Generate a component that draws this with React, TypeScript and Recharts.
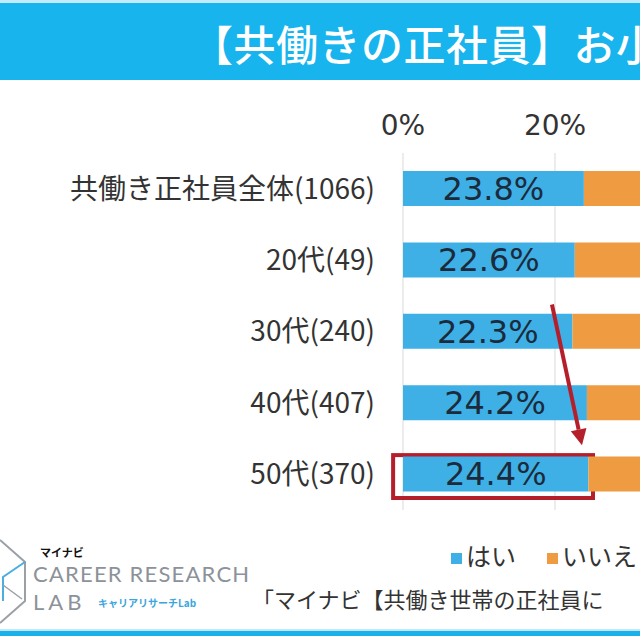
import React from 'react';
import {
  BarChart,
  Bar,
  XAxis,
  YAxis,
  CartesianGrid,
  LabelList,
  ReferenceArea,
  ReferenceLine,
} from 'recharts';

// values
const categories = ['共働き正社員全体(1066)', '20代(49)', '30代(240)', '40代(407)', '50代(370)'];
const yesValues = [23.8, 22.6, 22.3, 24.2, 24.4];
const noValues = [76.2, 77.4, 77.7, 75.8, 75.6];
const xTicks = [0, 20]; // only these two are visible in the crop
const seriesNames = ['はい', 'いいえ'];
const seriesColors = ['#3EB0E6', '#EE9B42'];

const data = categories.map((name, i) => ({ name, yes: yesValues[i], no: noValues[i] }));

const CJK = '"Noto Sans CJK JP", "Noto Sans", sans-serif';
const NUM = '"DejaVu Sans", sans-serif';
const RED = '#B51F2C';

// red box around the 50代 bar, drawn inside its band
const HighlightBox = (p: any) => (
  <rect
    x={p.x}
    y={p.y + 16.5}
    width={p.width}
    height={p.height - 28.5}
    fill="none"
    stroke={RED}
    strokeWidth={4}
  />
);

// arrow going down from above 30代 to the box
const Arrow = (p: any) => {
  const x1 = p.x1;
  const y1 = p.y1 - 27;
  const x2 = p.x2;
  const y2 = p.y2 - 29;
  const dx = x2 - x1;
  const dy = y2 - y1;
  const len = Math.sqrt(dx * dx + dy * dy);
  const ux = dx / len;
  const uy = dy / len;
  const head = 16;
  const half = 8;
  const bx = x2 - ux * head;
  const by = y2 - uy * head;
  return (
    <g>
      <line x1={x1} y1={y1} x2={bx} y2={by} stroke={RED} strokeWidth={4} />
      <polygon
        points={`${x2},${y2} ${bx - uy * half},${by + ux * half} ${bx + uy * half},${by - ux * half}`}
        fill={RED}
      />
    </g>
  );
};

const App = () => {
  return (
    <div
      style={{
        position: 'absolute',
        left: 0,
        top: 0,
        width: 640,
        height: 640,
        overflow: 'hidden',
        background: '#fff',
        fontFamily: CJK,
      }}
    >
      {/* title band */}
      <div style={{ position: 'absolute', left: 0, top: 0, width: 640, height: 3, background: '#c4ebfa' }} />
      <div style={{ position: 'absolute', left: 0, top: 3, width: 640, height: 77, background: '#17B4EE' }} />
      <div
        style={{
          position: 'absolute',
          left: 191,
          top: 22,
          fontSize: 42,
          lineHeight: '42px',
          color: '#fff',
          fontWeight: 500,
          whiteSpace: 'nowrap',
          letterSpacing: 0.5,
        }}
      >
        【共働きの正社員】お小
      </div>

      <div style={{ position: 'absolute', left: 0, top: 0 }}>
        <BarChart
          width={1180}
          height={520}
          layout="vertical"
          data={data}
          margin={{ top: 0, right: 17, bottom: 10, left: 0 }}
        >
          <CartesianGrid horizontal={false} stroke="#d9d9d9" />
          <XAxis
            type="number"
            domain={[0, 100]}
            ticks={xTicks}
            orientation="top"
            height={153}
            axisLine={false}
            tickLine={false}
            tickSize={0}
            tickMargin={18}
            tickFormatter={(v: number) => `${v}%`}
            tick={{ fontSize: 28, fill: '#333', fontFamily: NUM }}
          />
          <YAxis
            type="category"
            dataKey="name"
            width={403}
            axisLine={false}
            tickLine={false}
            tickSize={0}
            tickMargin={28}
            tick={{ fontSize: 28, fill: '#333', fontFamily: CJK }}
          />
          <Bar dataKey="yes" name={seriesNames[0]} stackId="a" fill={seriesColors[0]} barSize={35} isAnimationActive={false}>
            <LabelList
              dataKey="yes"
              position="center"
              formatter={(v: any) => `${Number(v).toFixed(1)}%`}
              fill="#1c2b3b"
              fontSize={32}
              fontFamily={NUM}
            />
          </Bar>
          <Bar dataKey="no" name={seriesNames[1]} stackId="a" fill={seriesColors[1]} barSize={35} isAnimationActive={false} />
          <ReferenceArea
            x1={-1.3}
            x2={25}
            y1={categories[4]}
            y2={categories[4]}
            ifOverflow="visible"
            shape={HighlightBox}
          />
          <ReferenceLine
            segment={[
              { x: 19.6, y: categories[2] },
              { x: 23.55, y: categories[4] },
            ]}
            ifOverflow="visible"
            shape={Arrow}
          />
        </BarChart>
      </div>

      {/* legend */}
      <div style={{ position: 'absolute', left: 451, top: 553, width: 11, height: 11, background: seriesColors[0] }} />
      <div style={{ position: 'absolute', left: 466, top: 543, fontSize: 25, lineHeight: '25px', color: '#333' }}>
        {seriesNames[0]}
      </div>
      <div style={{ position: 'absolute', left: 547, top: 553, width: 11, height: 11, background: seriesColors[1] }} />
      <div style={{ position: 'absolute', left: 562, top: 543, fontSize: 25, lineHeight: '25px', color: '#333', whiteSpace: 'nowrap' }}>
        {seriesNames[1]}
      </div>

      {/* source */}
      <div
        style={{
          position: 'absolute',
          left: 252,
          top: 587,
          fontSize: 22,
          lineHeight: '22px',
          color: '#333',
          whiteSpace: 'nowrap',
        }}
      >
        「マイナビ【共働き世帯の正社員に
      </div>

      {/* logo */}
      <svg style={{ position: 'absolute', left: 0, top: 535 }} width={30} height={95}>
        <path d="M0,5 L25,27 L25,66 L0,88" fill="none" stroke="#9aa0a6" strokeWidth={2} />
        <path d="M25,27 L3,42 L3,66" fill="none" stroke="#4aaee0" strokeWidth={2} />
        <path d="M3,50 L22,64" fill="none" stroke="#9aa0a6" strokeWidth={1.5} />
      </svg>
      <div style={{ position: 'absolute', left: 40, top: 547, fontSize: 11, lineHeight: '11px', fontWeight: 700, color: '#111' }}>
        マイナビ
      </div>
      <div
        style={{
          position: 'absolute',
          left: 33,
          top: 563,
          fontSize: 22,
          lineHeight: '22px',
          color: '#8c9299',
          fontFamily: 'Lato, sans-serif',
          whiteSpace: 'nowrap',
          letterSpacing: 1.2,
        }}
      >
        CAREER RESEARCH
      </div>
      <div
        style={{
          position: 'absolute',
          left: 33,
          top: 591,
          fontSize: 22,
          lineHeight: '22px',
          color: '#8c9299',
          fontFamily: 'Lato, sans-serif',
          letterSpacing: 4,
        }}
      >
        LAB
      </div>
      <div style={{ position: 'absolute', left: 98, top: 598, fontSize: 10, lineHeight: '10px', fontWeight: 700, color: '#3aa6dd', whiteSpace: 'nowrap' }}>
        キャリアリサーチLab
      </div>

      {/* bottom rule */}
      <div style={{ position: 'absolute', left: 0, top: 629, width: 640, height: 2, background: '#bfe8f8' }} />
      <div style={{ position: 'absolute', left: 0, top: 631, width: 640, height: 5, background: '#1AB0EA' }} />
    </div>
  );
};

export default App;
